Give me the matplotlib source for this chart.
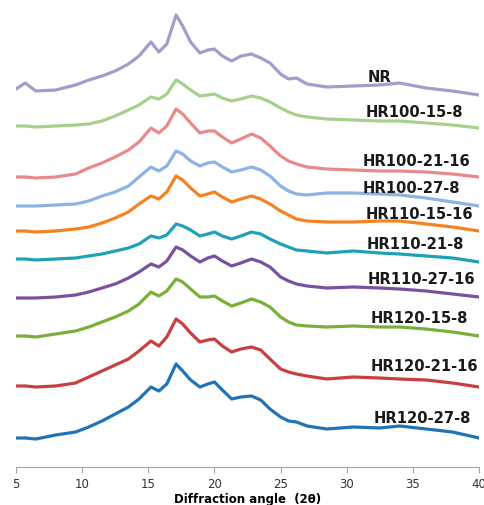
import numpy as np
import matplotlib.pyplot as plt

# --- data: diffraction angle grid and stacked intensities (a.u.) ---
angle = [5, 5.7, 6.5, 8, 9.5, 10.5, 11.5, 12.5, 13.5, 14.3, 15.2, 15.8, 16.4, 17.1,
         17.6, 18.2, 18.9, 19.5, 20.0, 20.6, 21.3, 22.0, 22.8, 23.5, 24.2, 25.0,
         25.6, 26.2, 27.0, 28.5, 30.5, 32.5, 34.0, 36.0, 38.0, 40.0]

samples = ['NR', 'HR100-15-8', 'HR100-21-16', 'HR100-27-8', 'HR110-15-16',
           'HR110-21-8', 'HR110-27-16', 'HR120-15-8', 'HR120-21-16', 'HR120-27-8']

nr = [378, 384, 376, 377, 382, 387, 391, 396, 403, 411, 425, 415, 423, 452, 441, 425, 414, 417,
      418, 411, 406, 411, 413, 409, 404, 393, 388, 389, 383, 380, 381, 382, 384, 379, 376, 372]
hr100_15_8 = [341, 341, 340, 341, 342, 343, 346, 351, 357, 362, 370, 368, 373, 387, 383, 377, 371, 372,
              373, 369, 366, 368, 371, 369, 365, 359, 355, 352, 350, 348, 347, 346, 346, 344, 342, 339]
hr100_21_16 = [290, 290, 289, 290, 293, 299, 304, 310, 317, 325, 339, 334, 341, 358, 353, 344, 334, 336,
               336, 330, 324, 328, 333, 329, 321, 311, 306, 303, 300, 298, 297, 296, 296, 295, 293, 290]
hr100_27_8 = [261, 261, 261, 262, 263, 266, 271, 275, 281, 290, 300, 296, 301, 316, 313, 306, 301, 304,
              305, 300, 295, 297, 300, 297, 291, 281, 276, 273, 272, 274, 274, 273, 272, 269, 265, 261]
hr110_15_16 = [236, 236, 235, 236, 238, 240, 244, 249, 255, 263, 271, 268, 275, 291, 287, 279, 271, 273,
               275, 270, 265, 268, 271, 268, 263, 256, 252, 248, 246, 245, 245, 246, 246, 243, 240, 236]
hr110_21_8 = [208, 208, 207, 208, 209, 211, 213, 216, 219, 223, 231, 229, 232, 243, 241, 237, 231, 233,
              235, 231, 228, 231, 235, 233, 228, 223, 220, 217, 216, 214, 216, 214, 213, 211, 209, 205]
hr110_27_16 = [169, 169, 169, 170, 172, 175, 179, 183, 189, 195, 203, 200, 206, 220, 217, 211, 205, 209,
               211, 206, 201, 204, 208, 205, 200, 190, 186, 183, 181, 179, 180, 179, 178, 176, 173, 170]
hr120_15_8 = [131, 131, 130, 133, 136, 140, 145, 150, 156, 163, 175, 171, 176, 188, 185, 178, 170, 170,
              171, 166, 161, 164, 168, 165, 160, 150, 145, 142, 141, 140, 141, 140, 140, 138, 135, 131]
hr120_21_16 = [81, 81, 80, 81, 84, 90, 96, 102, 108, 116, 126, 121, 130, 148, 143, 134, 125, 127,
               128, 121, 115, 118, 120, 117, 108, 98, 95, 93, 91, 88, 90, 89, 88, 87, 84, 80]
hr120_27_8 = [29, 29, 28, 32, 35, 40, 46, 53, 60, 68, 80, 76, 83, 103, 96, 87, 80, 83,
              85, 77, 68, 70, 71, 67, 58, 50, 46, 45, 41, 38, 40, 39, 41, 38, 35, 29]

curves = [nr, hr100_15_8, hr100_21_16, hr100_27_8, hr110_15_16,
          hr110_21_8, hr110_27_16, hr120_15_8, hr120_21_16, hr120_27_8]

colors = ['#A99AC9', '#A8D08D', '#E8898C', '#8DB3E2', '#F58220',
          '#1FA2B6', '#7A51A1', '#7AB03A', '#C9403F', '#2173B4']

# label anchor (angle, intensity) for each sample name
label_pos = [(31.6, 390), (31.4, 355), (31.2, 306), (31.2, 279), (31.4, 253),
             (31.5, 223), (31.6, 188), (31.8, 149), (31.8, 101), (32.0, 49)]

fig = plt.figure(figsize=(4.84, 5.06), dpi=100)
ax = fig.add_axes([16 / 484, 38 / 506, 463 / 484, 468 / 506])

for name, y, c, (lx, ly) in zip(samples, curves, colors, label_pos):
    ax.plot(angle, y, color=c, lw=2.3, solid_joinstyle='round')
    ax.text(lx, ly, name, fontsize=10.6, fontweight='bold', family='DejaVu Sans',
            ha='left', va='center', color='#1a1a1a')

ax.set_xlim(5, 40)
ax.set_ylim(0, 468)
ax.set_xticks([5, 10, 15, 20, 25, 30, 35, 40])
ax.set_yticks([])
for s in ['top', 'right', 'left']:
    ax.spines[s].set_visible(False)
ax.spines['bottom'].set_color('#a6a6a6')
ax.tick_params(axis='x', colors='#a6a6a6', length=4, labelsize=8.5, labelcolor='#333333')
ax.set_xlabel('Diffraction angle  (2\u03b8)', fontsize=8.5, fontweight='bold', labelpad=1.5)
ax.patch.set_visible(False)

fig.savefig('out.png', dpi=100)
